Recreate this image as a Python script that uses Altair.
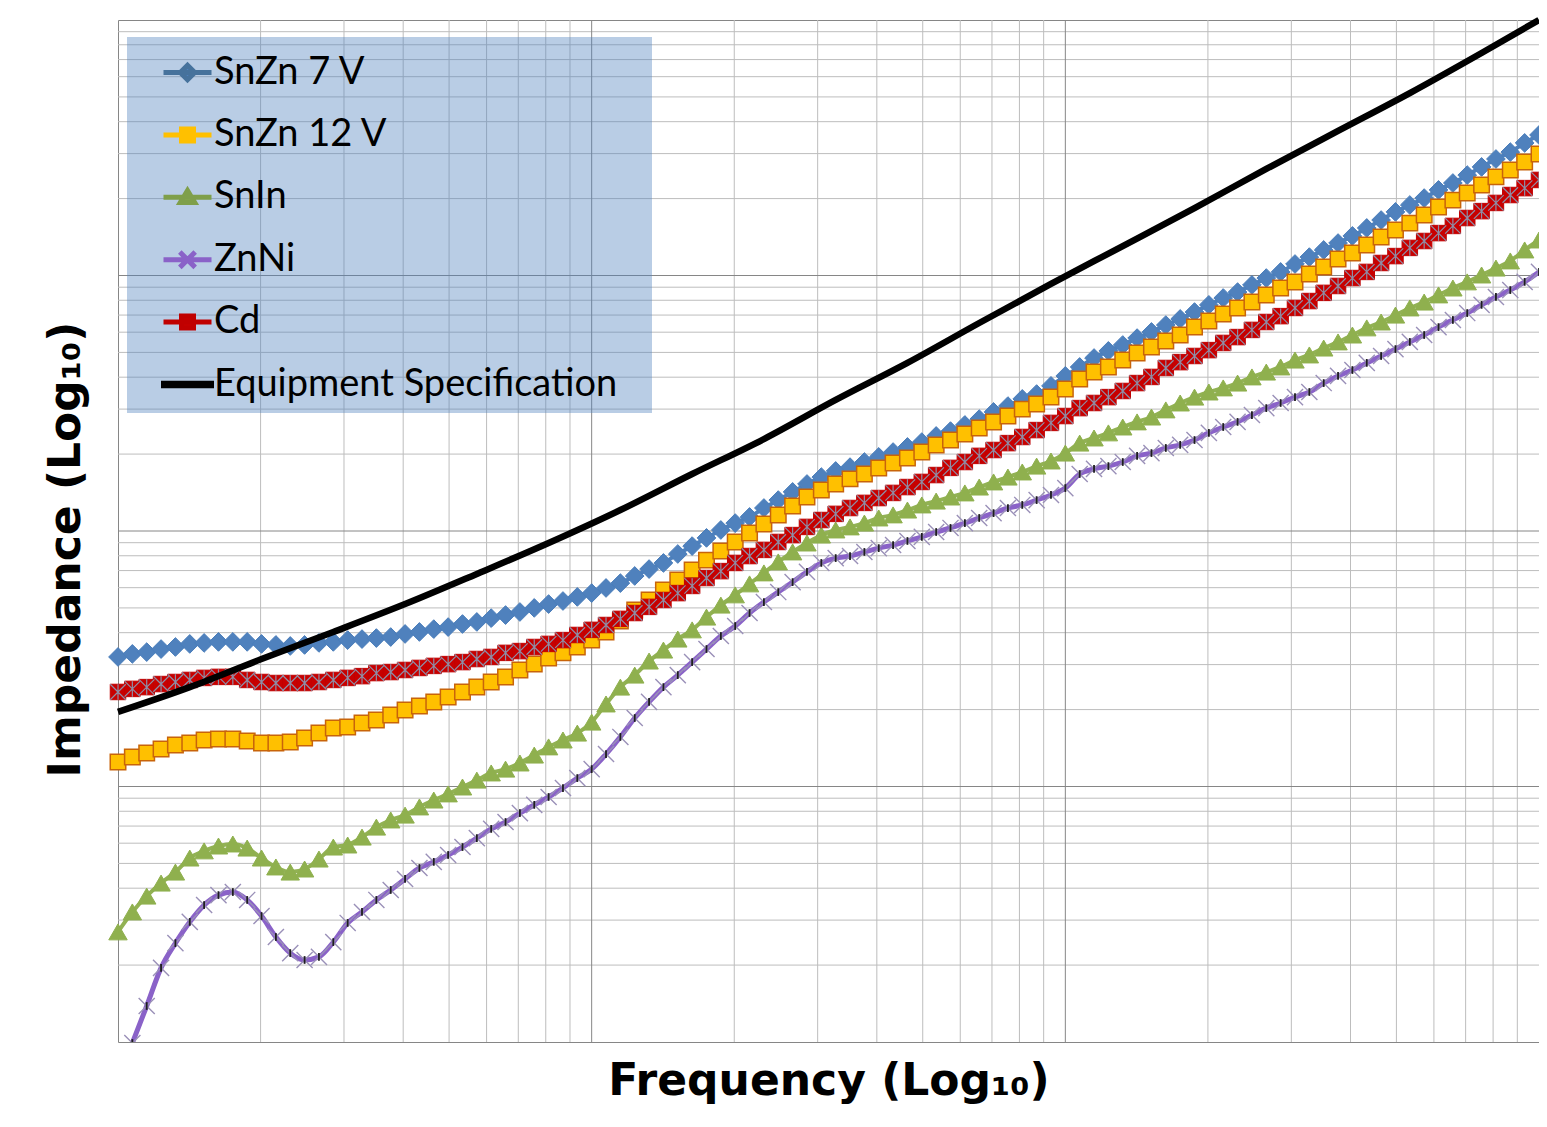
import altair as alt
import pandas as pd

SERIES = ["SnZn 7 V", "SnZn 12 V", "SnIn", "ZnNi", "Cd", "Equipment Specification"]

# frequency sweep: log-spaced, 33 points per decade over three decades
FREQ = [round(10 ** (k / 33), 5) for k in range(100)]

# log10 |Z|, one value per marker
LOGZ_SNZN7 = [
    1.507, 1.519, 1.526, 1.538, 1.546, 1.558, 1.562, 1.566, 1.566, 1.566,
    1.558, 1.554, 1.550, 1.554, 1.562, 1.566, 1.573, 1.577, 1.581, 1.585,
    1.597, 1.605, 1.616, 1.624, 1.636, 1.644, 1.659, 1.671, 1.683, 1.699,
    1.714, 1.726, 1.742, 1.757, 1.777, 1.796, 1.824, 1.851, 1.875, 1.910,
    1.941, 1.973, 2.004, 2.031, 2.055, 2.090, 2.121, 2.153, 2.184, 2.211,
    2.235, 2.250, 2.270, 2.290, 2.309, 2.329, 2.348, 2.372, 2.391, 2.415,
    2.438, 2.466, 2.489, 2.517, 2.536, 2.568, 2.607, 2.642, 2.677, 2.705,
    2.728, 2.755, 2.779, 2.806, 2.830, 2.857, 2.885, 2.912, 2.935, 2.963,
    2.990, 3.014, 3.045, 3.072, 3.100, 3.127, 3.155, 3.186, 3.217, 3.249,
    3.276, 3.303, 3.335, 3.362, 3.393, 3.425, 3.456, 3.483, 3.519, 3.550]

LOGZ_SNZN12 = [
    1.096, 1.115, 1.131, 1.147, 1.162, 1.170, 1.182, 1.186, 1.186, 1.178,
    1.170, 1.170, 1.174, 1.190, 1.209, 1.229, 1.233, 1.249, 1.260, 1.280,
    1.299, 1.315, 1.331, 1.350, 1.370, 1.389, 1.409, 1.429, 1.456, 1.479,
    1.503, 1.523, 1.546, 1.573, 1.605, 1.648, 1.691, 1.730, 1.769, 1.808,
    1.847, 1.886, 1.922, 1.957, 1.992, 2.027, 2.063, 2.098, 2.133, 2.160,
    2.184, 2.204, 2.223, 2.247, 2.266, 2.286, 2.309, 2.337, 2.356, 2.380,
    2.403, 2.427, 2.450, 2.477, 2.497, 2.524, 2.556, 2.595, 2.622, 2.642,
    2.669, 2.697, 2.720, 2.744, 2.767, 2.798, 2.822, 2.849, 2.873, 2.896,
    2.924, 2.951, 2.975, 3.006, 3.033, 3.065, 3.088, 3.119, 3.151, 3.178,
    3.205, 3.237, 3.268, 3.295, 3.323, 3.354, 3.386, 3.413, 3.444, 3.476]

LOGZ_SNIN = [
    0.431, 0.509, 0.571, 0.622, 0.665, 0.720, 0.748, 0.767, 0.775, 0.759,
    0.720, 0.685, 0.665, 0.677, 0.716, 0.763, 0.771, 0.802, 0.841, 0.869,
    0.888, 0.920, 0.947, 0.971, 0.998, 1.025, 1.053, 1.068, 1.092, 1.123,
    1.155, 1.182, 1.209, 1.252, 1.323, 1.389, 1.436, 1.491, 1.534, 1.577,
    1.613, 1.663, 1.710, 1.750, 1.793, 1.836, 1.879, 1.918, 1.953, 1.984,
    2.004, 2.016, 2.031, 2.051, 2.063, 2.082, 2.102, 2.117, 2.133, 2.149,
    2.172, 2.192, 2.211, 2.231, 2.254, 2.274, 2.305, 2.344, 2.364, 2.384,
    2.407, 2.427, 2.446, 2.474, 2.501, 2.524, 2.544, 2.560, 2.579, 2.603,
    2.622, 2.642, 2.669, 2.689, 2.716, 2.740, 2.767, 2.795, 2.818, 2.845,
    2.873, 2.896, 2.924, 2.951, 2.975, 3.002, 3.029, 3.057, 3.100, 3.139]

LOGZ_ZNNI = [
    None, -0.004, 0.141, 0.290, 0.387, 0.470, 0.536, 0.575, 0.587, 0.556,
    0.493, 0.411, 0.348, 0.321, 0.333, 0.391, 0.466, 0.509, 0.556, 0.595,
    0.638, 0.681, 0.705, 0.732, 0.763, 0.798, 0.834, 0.861, 0.896, 0.928,
    0.959, 0.994, 1.033, 1.068, 1.127, 1.194, 1.268, 1.331, 1.389, 1.436,
    1.487, 1.538, 1.589, 1.628, 1.679, 1.722, 1.761, 1.800, 1.840, 1.875,
    1.894, 1.902, 1.918, 1.933, 1.945, 1.961, 1.977, 1.996, 2.012, 2.031,
    2.051, 2.070, 2.090, 2.102, 2.121, 2.141, 2.168, 2.223, 2.243, 2.254,
    2.270, 2.294, 2.305, 2.325, 2.337, 2.356, 2.384, 2.407, 2.427, 2.454,
    2.481, 2.501, 2.524, 2.544, 2.579, 2.607, 2.630, 2.658, 2.685, 2.712,
    2.740, 2.767, 2.798, 2.826, 2.853, 2.885, 2.916, 2.943, 2.975, 3.014]

LOGZ_CD = [
    1.370, 1.382, 1.389, 1.401, 1.409, 1.417, 1.425, 1.429, 1.429, 1.417,
    1.409, 1.405, 1.405, 1.405, 1.409, 1.417, 1.425, 1.432, 1.444, 1.448,
    1.456, 1.464, 1.472, 1.479, 1.487, 1.499, 1.507, 1.523, 1.530, 1.546,
    1.558, 1.573, 1.593, 1.613, 1.632, 1.656, 1.679, 1.703, 1.730, 1.757,
    1.785, 1.816, 1.843, 1.875, 1.902, 1.926, 1.957, 1.984, 2.016, 2.043,
    2.067, 2.090, 2.110, 2.129, 2.149, 2.172, 2.192, 2.219, 2.247, 2.270,
    2.294, 2.317, 2.344, 2.368, 2.395, 2.423, 2.450, 2.481, 2.501, 2.524,
    2.548, 2.579, 2.603, 2.638, 2.661, 2.685, 2.708, 2.736, 2.759, 2.787,
    2.818, 2.841, 2.873, 2.900, 2.932, 2.959, 2.990, 3.014, 3.049, 3.076,
    3.108, 3.135, 3.166, 3.194, 3.225, 3.252, 3.284, 3.315, 3.342, 3.374]

# equipment specification: smooth curve, read at every fifth sweep point
SPEC_IDX = [0, 5, 10, 15, 20, 25, 30, 35, 40, 45, 50, 55, 60, 65, 70, 75, 80, 85, 90, 95, 99]
LOGZ_SPEC = [1.292, 1.389, 1.499, 1.605, 1.714, 1.832, 1.953, 2.082, 2.223, 2.360, 2.513,
             2.658, 2.814, 2.967, 3.115, 3.264, 3.417, 3.566, 3.714, 3.871, 4.000]

# gridline positions (log axes, no tick labels shown)
X_MINOR = [2, 3, 4, 5, 6, 7, 8, 9, 20, 30, 40, 50, 60, 70, 80, 90,
           200, 300, 400, 500, 600, 700, 800, 900]
X_MAJOR = [10, 100]
Y_MINOR = [2, 3, 4, 5, 6, 7, 8, 9, 20, 30, 40, 50, 60, 70, 80, 90,
           200, 300, 400, 500, 600, 700, 800, 900,
           2000, 3000, 4000, 5000, 6000, 7000, 8000, 9000]
Y_MAJOR = [10, 100, 1000]

rows = []
for name, vals in zip(SERIES[:5], [LOGZ_SNZN7, LOGZ_SNZN12, LOGZ_SNIN, LOGZ_ZNNI, LOGZ_CD]):
    for f, v in zip(FREQ, vals):
        if v is None:
            continue
        rows.append({"series": name, "freq": f, "z": 10 ** v})
for i, v in zip(SPEC_IDX, LOGZ_SPEC):
    rows.append({"series": SERIES[5], "freq": FREQ[i], "z": 10 ** v})
df = pd.DataFrame(rows)

TITLE_FONT = "DejaVu Sans"
xscale = alt.Scale(type="log", domain=[1, 1000], nice=False)
yscale = alt.Scale(type="log", domain=[1, 10000], nice=False)
xaxis = alt.Axis(title="Frequency (Log₁₀)", labels=False, ticks=False, domain=False, grid=False,
                 titleFont=TITLE_FONT, titleFontSize=44, titleFontWeight="bold",
                 titleColor="#000000", titlePadding=17)
yaxis = alt.Axis(title="Impedance (Log₁₀)", labels=False, ticks=False, domain=False, grid=False,
                 titleFont=TITLE_FONT, titleFontSize=44, titleFontWeight="bold",
                 titleColor="#000000", titlePadding=30, titleY=529)

layers = []
# gridlines
layers.append(alt.Chart(pd.DataFrame({"v": X_MINOR})).mark_rule(color="#BDBDBD", strokeWidth=1)
              .encode(x=alt.X("v:Q", scale=xscale, axis=xaxis)))
layers.append(alt.Chart(pd.DataFrame({"v": Y_MINOR})).mark_rule(color="#BDBDBD", strokeWidth=1)
              .encode(y=alt.Y("v:Q", scale=yscale, axis=yaxis)))
layers.append(alt.Chart(pd.DataFrame({"v": X_MAJOR})).mark_rule(color="#868686", strokeWidth=1)
              .encode(x=alt.X("v:Q", scale=xscale, axis=xaxis)))
layers.append(alt.Chart(pd.DataFrame({"v": Y_MAJOR})).mark_rule(color="#868686", strokeWidth=1)
              .encode(y=alt.Y("v:Q", scale=yscale, axis=yaxis)))


def base(name):
    return alt.Chart(df).transform_filter(alt.datum.series == name).encode(
        x=alt.X("freq:Q", scale=xscale, axis=xaxis),
        y=alt.Y("z:Q", scale=yscale, axis=yaxis),
    )


X_PATH = "M-1,-1L1,1M-1,1L1,-1"
STAR_PATH = "M-1,-1L1,1M-1,1L1,-1M0,-1L0,1"
VTICK_PATH = "M0,-1L0,1"

# SnZn 7 V
layers.append(base(SERIES[0]).mark_line(color="#4F81BD", strokeWidth=4, interpolate="monotone"))
layers.append(base(SERIES[0]).mark_point(shape="diamond", size=350, filled=True, fill="#4F81BD",
                                         stroke="#4A7EBB", strokeWidth=1, opacity=1))
# SnZn 12 V
layers.append(base(SERIES[1]).mark_line(color="#FFC000", strokeWidth=4, interpolate="monotone"))
layers.append(base(SERIES[1]).mark_point(shape="square", size=240, filled=True, fill="#FFC000",
                                         stroke="#C8640A", strokeWidth=1.5, opacity=1))
# SnIn
layers.append(base(SERIES[2]).mark_line(color="#92B254", strokeWidth=4, interpolate="monotone"))
layers.append(base(SERIES[2]).mark_point(shape="triangle-up", size=340, filled=True, fill="#8FB04E",
                                         stroke="#8FB04E", strokeWidth=1, opacity=1))
# ZnNi
layers.append(base(SERIES[3]).mark_line(color="#8A62C8", strokeWidth=5, interpolate="monotone", clip=True))
layers.append(base(SERIES[3]).mark_point(shape=X_PATH, size=260, filled=False, stroke="#9A90B8",
                                         strokeWidth=1.4, opacity=1, clip=True))
layers.append(base(SERIES[3]).mark_point(shape=VTICK_PATH, size=60, filled=False, stroke="#1E1E1E",
                                         strokeWidth=1.8, opacity=1, clip=True))
# Cd
layers.append(base(SERIES[4]).mark_line(color="#C00000", strokeWidth=4, interpolate="monotone"))
layers.append(base(SERIES[4]).mark_point(shape="square", size=240, filled=True, fill="#C80000",
                                         stroke="#C00000", strokeWidth=1, opacity=1))
layers.append(base(SERIES[4]).mark_point(shape=STAR_PATH, size=240, filled=False, stroke="#8E8EA6",
                                         strokeWidth=1.2, opacity=1))
# Equipment specification
layers.append(base(SERIES[5]).mark_line(color="#000000", strokeWidth=6.5, interpolate="monotone"))

# legend (symbols = line + marker)
LEG_SHAPES = [
    "M-1,0L1,0M-0.3,0L0,-0.3L0.3,0L0,0.3Z",
    "M-1,0L1,0M-0.25,-0.25L0.25,-0.25L0.25,0.25L-0.25,0.25Z",
    "M-1,0L1,0M0,-0.28L0.3,0.22L-0.3,0.22Z",
    "M-1,0L1,0M-0.32,-0.32L0.32,0.32M-0.32,0.32L0.32,-0.32",
    "M-1,0L1,0M-0.25,-0.25L0.25,-0.25L0.25,0.25L-0.25,0.25Z",
    "M-1,-0.05L1,-0.05L1,0.05L-1,0.05Z",
]
LEG_FILL = ["#4F81BD", "#FFC000", "#8FB04E", "#8A62C8", "#C80000", "#000000"]
LEG_STROKE = ["#46729C", "#FFC000", "#7F9F4A", "#8A62C8", "#C00000", "#000000"]

leg = alt.Legend(title=" ", titleOrient="right", titlePadding=26, titleFontSize=10,
                 orient="none", legendX=9, legendY=17,
                 fillColor="rgba(79,129,189,0.4)", padding=9, rowPadding=16.4,
                 symbolSize=2304, symbolStrokeWidth=5, symbolOffset=25,
                 labelFont="Lato", labelFontSize=38, labelColor="#000000",
                 labelOffset=0, labelLimit=1000)

layers.append(
    alt.Chart(df).transform_filter("false").mark_point(filled=True, opacity=1, strokeWidth=5).encode(
        shape=alt.Shape("series:N", scale=alt.Scale(domain=SERIES, range=LEG_SHAPES), legend=leg),
        fill=alt.Fill("series:N", scale=alt.Scale(domain=SERIES, range=LEG_FILL), legend=leg),
        stroke=alt.Stroke("series:N", scale=alt.Scale(domain=SERIES, range=LEG_STROKE), legend=leg),
    )
)

chart = alt.layer(*layers).properties(
    width=1421, height=1022,
    padding={"left": 110, "top": 12, "right": 0, "bottom": 68},
    autosize=alt.AutoSizeParams(type="none"),
    background="#FFFFFF",
).configure_view(stroke="#868686", strokeWidth=1)

chart.save("out.html", embed_options={"renderer": "svg", "actions": False})
